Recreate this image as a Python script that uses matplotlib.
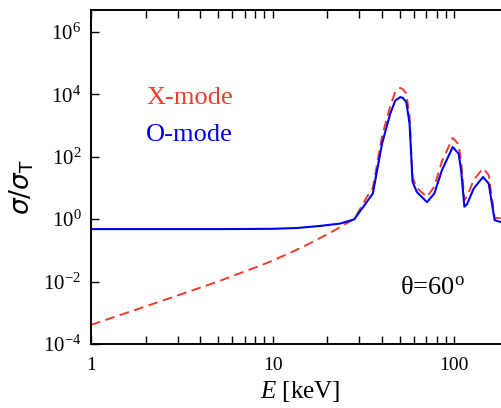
import math
import matplotlib
matplotlib.use("Agg")
import matplotlib.pyplot as plt
from matplotlib.ticker import FixedLocator, FuncFormatter, LogLocator, NullFormatter

### data ###
o_energy = [1, 5.8, 10, 13.6, 18, 23.5, 28.1, 35.6, 40, 44.4, 47.3, 50.4, 52.1, 54.4,
            56.7, 58.9, 62.2, 70.7, 77.6, 85.5, 98, 105.6, 109, 113.6, 117.5, 127.8,
            143.9, 154.6, 166.7, 179, 200]
o_sigma = [0.48, 0.48, 0.49, 0.52, 0.60, 0.72, 0.98, 6.6, 263, 2400, 6300, 8100, 7600, 5600,
           1150, 15.5, 7.4, 3.5, 6.6, 37, 204, 126, 37, 2.5, 3.0, 9.5,
           22.4, 13.8, 0.93, 0.81, 0.80]

x_energy = [1, 2, 3, 5, 7, 8.5, 10, 13, 15, 17, 21, 25, 28.1, 33, 35.6, 40, 44.4, 47.3, 50.4,
            52.1, 54.4, 56.7, 58.9, 62.2, 70.7, 77.6, 85.5, 98, 105.6, 109, 113.6, 117.5,
            127.8, 143.9, 154.6, 166.7, 179, 200]
x_sigma = [4.1e-4, 1.6e-3, 3.6e-3, 1.0e-2, 2.1e-2, 3.2e-2, 4.7e-2, 9.3e-2, 0.138, 0.20, 0.38, 0.68,
           1.0, 5.1, 10, 450, 4200, 1.2e4, 1.6e4, 1.45e4, 1.05e4, 2000, 22, 10, 5.1, 11, 71,
           400, 250, 71, 4.1, 5.2, 18, 42, 26, 1.1, 1.07, 1.0]

y_ticks = [1e-4, 1e-2, 1e0, 1e2, 1e4, 1e6]
x_ticks = [1, 10, 100]
x_tick_labels = ["1", "10", "100"]

RED = "#ef3b2c"
BLUE = "#0000ee"

plt.rcParams["font.family"] = "Liberation Serif"
plt.rcParams["mathtext.fontset"] = "custom"
plt.rcParams["mathtext.rm"] = "Liberation Serif"
plt.rcParams["mathtext.it"] = "Liberation Serif:italic"

fig = plt.figure(figsize=(5.01, 4.08), dpi=100)
ax = fig.add_axes([91 / 501, 1 - 344 / 408, 418 / 501, 334 / 408])

ax.plot(x_energy, x_sigma, color=RED, lw=1.4, dashes=(5, 2.8))
ax.plot(o_energy, o_sigma, color=BLUE, lw=1.5)

ax.set_xscale("log")
ax.set_yscale("log")
ax.set_xlim(1, 200)
ax.set_ylim(1e-4, 5e6)

def x_fmt(v, p) :
  for t, lab in zip(x_ticks, x_tick_labels) :
    if abs(v - t) < 1e-6 * t :
      return lab
  return ""

ax.xaxis.set_major_locator(FixedLocator(x_ticks))
ax.xaxis.set_major_formatter(FuncFormatter(x_fmt))
ax.xaxis.set_minor_locator(LogLocator(base=10, subs=range(2, 10)))
ax.xaxis.set_minor_formatter(NullFormatter())
ax.yaxis.set_major_locator(FixedLocator(y_ticks))
ax.yaxis.set_major_formatter(FuncFormatter(lambda v, p : r"$\mathrm{10^{%d}}$" % round(math.log10(v))))
ax.yaxis.set_minor_locator(FixedLocator([]))

ax.tick_params(which="both", direction="in", top=True, right=True, length=6, width=1.0)
ax.tick_params(axis="x", labelsize=14, pad=9)
ax.tick_params(axis="y", labelsize=15, pad=7)
for s in ax.spines.values() :
  s.set_linewidth(1.4)

ax.set_xlabel(r"$\mathit{E}$ [keV]", fontsize=18, labelpad=4)
ax.set_ylabel(r"$\sigma/\sigma_{\mathrm{T}}$", fontsize=19, math_fontfamily="dejavusans")
ax.yaxis.set_label_coords(-0.132, 0.47)

fig.text(146 / 501, 1 - 104 / 408, "X-mode", color=RED, fontsize=19)
fig.text(146 / 501, 1 - 141 / 408, "O-mode", color=BLUE, fontsize=19)
fig.text(400 / 501, 1 - 294 / 408, r"θ=60$^{\mathrm{o}}$", color="black", fontsize=19)

fig.savefig("out.png", dpi=100)
